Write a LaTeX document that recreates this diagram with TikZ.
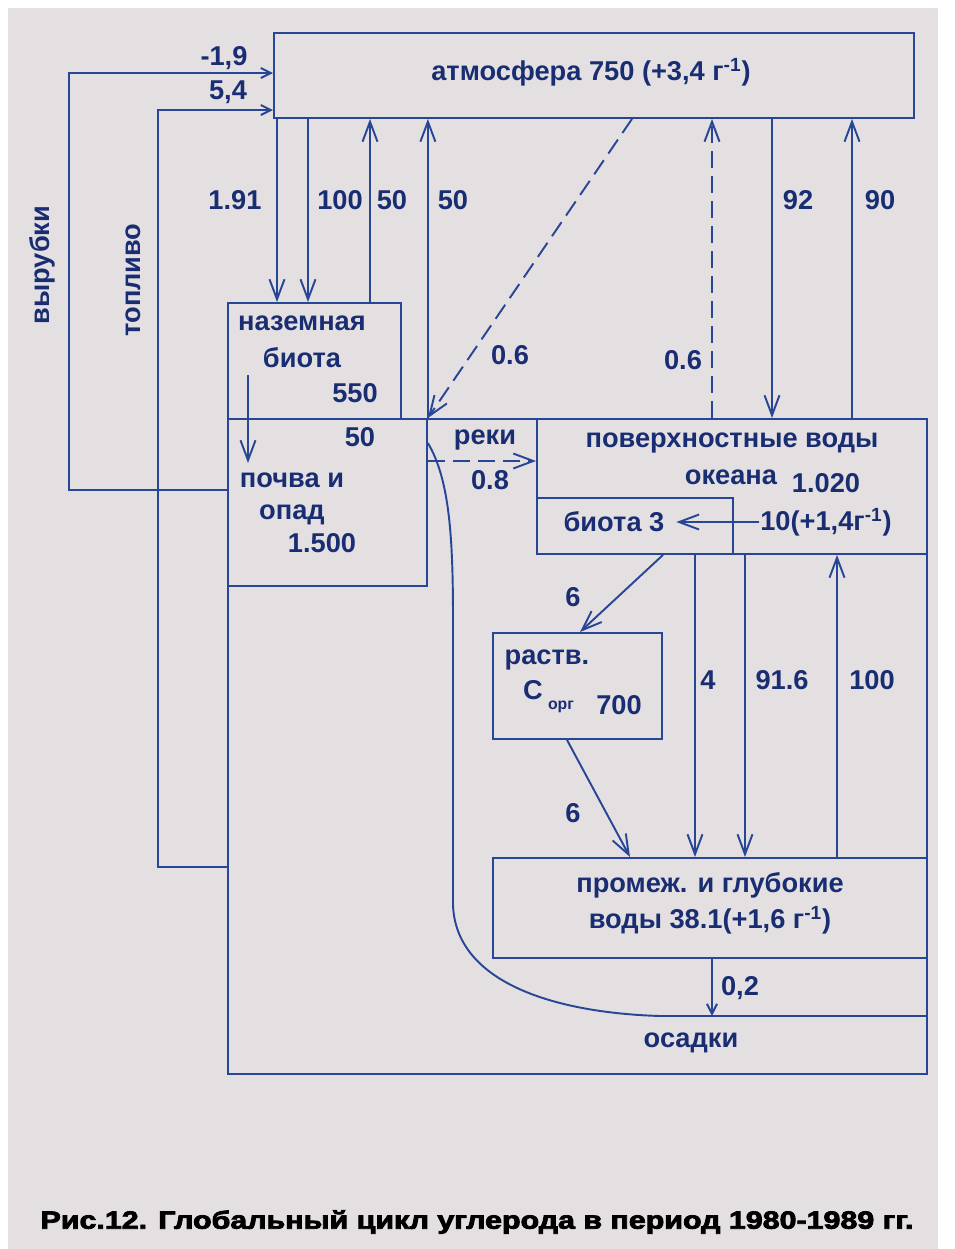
\documentclass[tikz,border=0pt]{standalone}
\usepackage{fontspec}
\usepackage{graphicx}
\setmainfont{Liberation Sans}
\newfontfamily\lab{Liberation Sans}
\newfontfamily\capf[FakeBold=3]{Liberation Sans}
\usetikzlibrary{arrows.meta}
\definecolor{ln}{RGB}{40,70,150}
\definecolor{tx}{RGB}{25,45,115}
\definecolor{bg}{RGB}{228,224,226}
\begin{document}
\begin{tikzpicture}[x=0.02cm,y=-0.02cm,line width=1.1pt,
  every node/.style={text=tx,font=\lab\bfseries\fontsize{15.5}{18}\selectfont,inner sep=0pt},
  box/.style={draw=ln,anchor=north west,inner sep=0pt},
  arr/.style={draw=ln,-{Straight Barb[length=0.4cm,width=0.3cm]}},
  sarr/.style={draw=ln,-{Straight Barb[length=0.2cm,width=0.2cm]}},
  con/.style={draw=ln},
  dsh/.style={dash pattern=on 0.34cm off 0.16cm},
  small/.style={font=\lab\bfseries\fontsize{9}{10}\selectfont}]
% background
\fill[white] (0,0) rectangle (955,1249);
\fill[bg] (8,8) rectangle (938,1249);
\useasboundingbox (0,0) rectangle (955,1249);
% boxes
\node[box,minimum width=12.8cm,minimum height=1.7cm] (atm) at (273,32) {};
\node[box,minimum width=3.46cm,minimum height=2.32cm] (bio) at (227,302) {};
\node[box,minimum width=13.98cm,minimum height=13.1cm] (frame) at (227,418) {};
\node[box,minimum width=3.98cm,minimum height=3.34cm] (soil) at (227,418) {};
\node[box,minimum width=7.8cm,minimum height=2.7cm] (ocean) at (536,418) {};
\node[box,minimum width=3.92cm,minimum height=1.12cm] (b3) at (536,497) {};
\node[box,minimum width=3.38cm,minimum height=2.12cm] (rastv) at (492,632) {};
\node[box,minimum width=8.68cm,minimum height=2.0cm] (deep) at (492,857) {};
% helper coordinates
\coordinate (x69) at (69,0);
\coordinate (x158) at (158,0);
\coordinate (x248) at (248,0);
\coordinate (x277) at (277,0);
\coordinate (x308) at (308,0);
\coordinate (x370) at (370,0);
\coordinate (x567) at (567,0);
\coordinate (x580) at (580,0);
\coordinate (x630) at (630,0);
\coordinate (x632) at (632,0);
\coordinate (x663) at (663,0);
\coordinate (x695) at (695,0);
\coordinate (x712) at (712,0);
\coordinate (x745) at (745,0);
\coordinate (x772) at (772,0);
\coordinate (x837) at (837,0);
\coordinate (x852) at (852,0);
\coordinate (y73) at (0,73);
\coordinate (y110) at (0,110);
\coordinate (y375) at (0,375);
\coordinate (y443) at (0,443);
\coordinate (y461) at (0,461);
\coordinate (y463) at (0,463);
\coordinate (y490) at (0,490);
\coordinate (y867) at (0,867);
\coordinate (y1016) at (0,1016);
% texts
\node (tatm) at (591,72) {атмосфера 750 (+3,4 г\textsuperscript{-1})};
\node (t19) at (224,58) {-1,9};
\node (t54) at (228,92) {5,4};
\node[rotate=90] (tvyr) at (42,265) {вырубки};
\node[rotate=90] (ttop) at (133,280) {топливо};
\node (l191) at (235,200) {1.91};
\node (l100) at (340,200) {100};
\node (l50a) at (392,200) {50};
\node (l50b) at (453,200) {50};
\node (l92) at (798,200) {92};
\node (l90) at (880,200) {90};
\node (l06a) at (510,355) {0.6};
\node (l06b) at (683,360) {0.6};
\node (tnaz) at (302,323) {наземная};
\node (tbio) at (302,358) {биота};
\node (t550) at (355,393) {550};
\node (l50c) at (360,437) {50};
\node (tpoch) at (292,480) {почва и};
\node (topad) at (292,515) {опад};
\node (t1500) at (322,543) {1.500};
\node (treki) at (485,440) {реки};
\node (l08) at (490,480) {0.8};
\node (tpov) at (732,443) {поверхностные воды};
\node (tok) at (731,477) {океана};
\node (t1020) at (826,483) {1.020};
\node (tb3) at (614,522) {биота 3};
\node (t10) at (826,522) {10(+1,4г\textsuperscript{-1})};
\node (l6a) at (573,597) {6};
\node (l4) at (708,680) {4};
\node (l916) at (782,680) {91.6};
\node (l100b) at (872,680) {100};
\node (trastv) at (547,660) {раств.};
\node (tC) at (533,690) {C};
\node[small] (torg) at (561,707) {орг};
\node (t700) at (619,705) {700};
\node (l6b) at (573,813) {6};
\node (tprom) at (710,885) {промеж. и глубокие};
\node (tvody) at (710,920) {воды 38.1(+1,6 г\textsuperscript{-1})};
\node (l02) at (740,988) {0,2};
\node (tosad) at (691,1043) {осадки};
\node[text=black] (cap) at (477,1222) {\resizebox{17.46cm}{0.37cm}{\capf\bfseries Рис.12. Глобальный цикл углерода в период 1980-1989 гг.}};
% connectors: left loops
\draw[sarr] (soil.west |- y490) -- (x69 |- y490) -- (x69 |- y73) -- (atm.west |- y73);
\draw[sarr] (frame.west |- y867) -- (x158 |- y867) -- (x158 |- y110) -- (atm.west |- y110);
% atmosphere <-> land
\draw[arr] (x277 |- atm.south) -- (x277 |- bio.north);
\draw[arr] (x308 |- atm.south) -- (x308 |- bio.north);
\draw[arr] (x370 |- bio.north) -- (x370 |- atm.south);
\draw[arr] (soil.north east) -- (soil.north east |- atm.south);
\draw[arr,dsh] (x632 |- atm.south) -- (soil.north east);
\draw[arr] (x248 |- y375) -- (x248 |- y463);
% atmosphere <-> ocean
\draw[arr,dsh] (x712 |- ocean.north) -- (x712 |- atm.south);
\draw[arr] (x772 |- atm.south) -- (x772 |- ocean.north);
\draw[arr] (x852 |- ocean.north) -- (x852 |- atm.south);
% rivers
\draw[arr,dsh] (soil.east |- y461) -- (ocean.west |- y461);
% ocean internal
\draw[arr,shorten >=0.22cm] (t10.west) -- (tb3.east);
\draw[arr] (x663 |- b3.south) -- (x580 |- rastv.north);
\draw[arr] (x567 |- rastv.south) -- (x630 |- deep.north);
\draw[arr] (x695 |- ocean.south) -- (x695 |- deep.north);
\draw[arr] (x745 |- ocean.south) -- (x745 |- deep.north);
\draw[arr] (x837 |- deep.north) -- (x837 |- ocean.south);
\draw[sarr] (x712 |- deep.south) -- (x712 |- y1016);
% sediment boundary
\draw[con] (soil.east |- y443) .. controls (450,480) and (453,540) .. (453,620) -- (453,905) .. controls (456,985) and (560,1013) .. (660,1016) -- (frame.east |- y1016);
\end{tikzpicture}
\end{document}
